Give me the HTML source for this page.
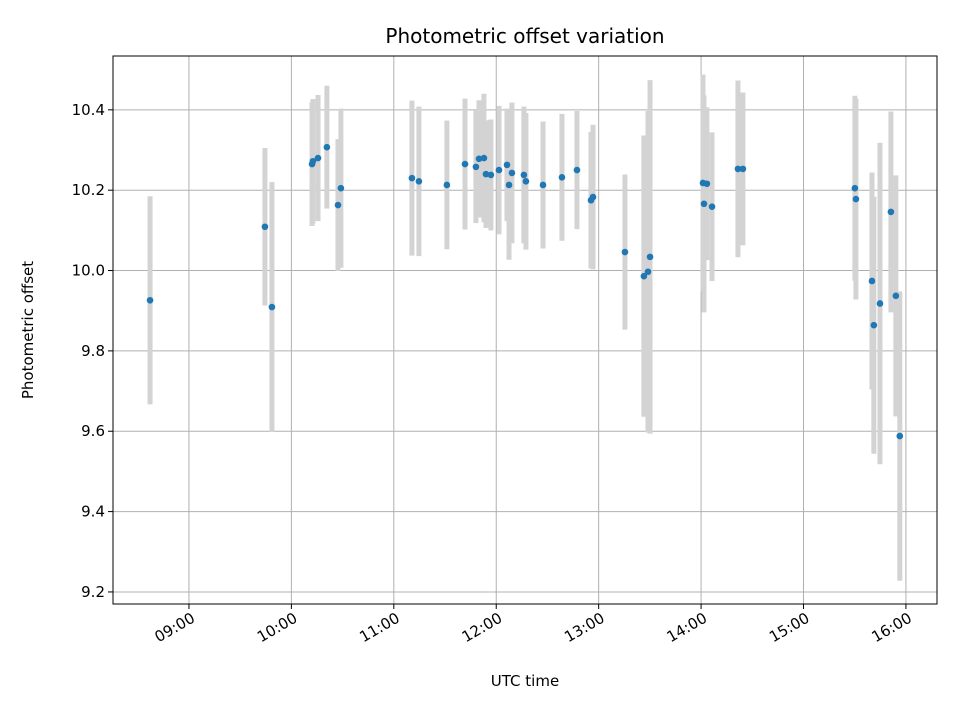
<!DOCTYPE html>
<html><head><meta charset="utf-8">
<style>
body{margin:0;background:#fff;}
svg{display:block;font-family:"DejaVu Sans","Liberation Sans",sans-serif;}
</style></head>
<body>
<svg id="chart" width="960" height="720" viewBox="0 0 960 720">
<rect x="0" y="0" width="960" height="720" fill="#fff"/>
<g id="grid"></g>
<g id="errs"></g>
<g id="pts"></g>
<rect x="113" y="56" width="824" height="548" fill="none" stroke="#000" stroke-width="1"/>
<g id="xt"></g>
<g id="yt"></g>
<text x="525" y="43" text-anchor="middle" font-size="20">Photometric offset variation</text>
<text x="525" y="686" text-anchor="middle" font-size="15">UTC time</text>
<text transform="translate(33,330) rotate(-90)" text-anchor="middle" font-size="15">Photometric offset</text>
</svg>
<script>
// minutes after 09:00 UTC
const times=[-22.8,44.5,48.6,72.1,72.6,75.6,80.8,87.3,89.0,130.6,134.7,151.1,161.7,168.1,169.9,172.8,174.0,176.9,181.6,186.3,187.5,189.2,196.2,197.4,207.4,218.5,227.3,235.5,236.7,255.4,266.5,268.9,270.1,301.1,303.4,301.7,306.4,321.6,324.5,390.1,390.7,400.1,401.2,404.8,411.2,414.1,416.4];
const offsets=[9.926,10.109,9.909,10.265,10.272,10.28,10.307,10.163,10.205,10.23,10.222,10.213,10.265,10.258,10.278,10.28,10.24,10.238,10.25,10.263,10.213,10.243,10.238,10.222,10.213,10.232,10.25,10.175,10.183,10.046,9.986,9.997,10.034,10.218,10.216,10.166,10.159,10.253,10.253,10.205,10.178,9.974,9.864,9.918,10.146,9.937,9.588];
const errors=[0.259,0.196,0.311,0.154,0.155,0.157,0.153,0.164,0.198,0.193,0.186,0.16,0.163,0.14,0.146,0.16,0.134,0.138,0.16,0.14,0.186,0.175,0.17,0.17,0.158,0.158,0.147,0.17,0.18,0.193,0.35,0.40,0.44,0.27,0.19,0.27,0.185,0.22,0.19,0.23,0.25,0.27,0.32,0.40,0.25,0.30,0.36];
const xTickMinutes=[0,60,120,180,240,300,360,420];
const xTickLabels=["09:00","10:00","11:00","12:00","13:00","14:00","15:00","16:00"];
const yTicks=[9.2,9.4,9.6,9.8,10.0,10.2,10.4];
const yTickLabels=["9.2","9.4","9.6","9.8","10.0","10.2","10.4"];

const X0=113,X1=937,Y0=56,Y1=604;
const xMin=-44.5,xMax=438.2,yMin=9.170,yMax=10.534;
const sx=v=>X0+(v-xMin)/(xMax-xMin)*(X1-X0);
const sy=v=>Y1-(v-yMin)/(yMax-yMin)*(Y1-Y0);
const NS="http://www.w3.org/2000/svg";
function mk(tag,attrs,parent){const e=document.createElementNS(NS,tag);for(const k in attrs)e.setAttribute(k,attrs[k]);parent.appendChild(e);return e;}
const grid=document.getElementById('grid'),xt=document.getElementById('xt'),yt=document.getElementById('yt');
xTickMinutes.forEach((m,i)=>{
  const x=sx(m);
  const g=mk('line',{x1:x,x2:x,y1:Y0,y2:Y1,stroke:'#b0b0b0','stroke-width':1},grid);
  
  
  const t=mk('line',{x1:x,x2:x,y1:Y1,y2:Y1+5,stroke:'#000'},xt);
  
  
  const l=mk('text',{x:0,y:0,'font-size':15,'text-anchor':'end',transform:`translate(${x+7},${Y1+17}) rotate(-30)`},xt);
  
  
  l.textContent=xTickLabels[i];
});
yTicks.forEach((v,i)=>{
  const y=sy(v);
  const g=mk('line',{x1:X0,x2:X1,y1:y,y2:y,stroke:'#b0b0b0','stroke-width':1},grid);
  
  
  const t=mk('line',{x1:X0-5,x2:X0,y1:y,y2:y,stroke:'#000'},yt);
  
  
  const l=mk('text',{x:X0-8,y:y+5,'font-size':15,'text-anchor':'end'},yt);
  
  
  l.textContent=yTickLabels[i];
});
const errs=document.getElementById('errs'),pts=document.getElementById('pts');
times.forEach((m,i)=>{
  const x=sx(m);
  const e=mk('line',{x1:x,x2:x,y1:sy(offsets[i]+errors[i]),y2:sy(offsets[i]-errors[i]),stroke:'#d3d3d3','stroke-width':5},errs);
  
  
});
times.forEach((m,i)=>{
  const c=mk('circle',{cx:sx(m),cy:sy(offsets[i]),r:3.3,fill:'#1f77b4'},pts);
  
  
});
</script>
</body></html>
